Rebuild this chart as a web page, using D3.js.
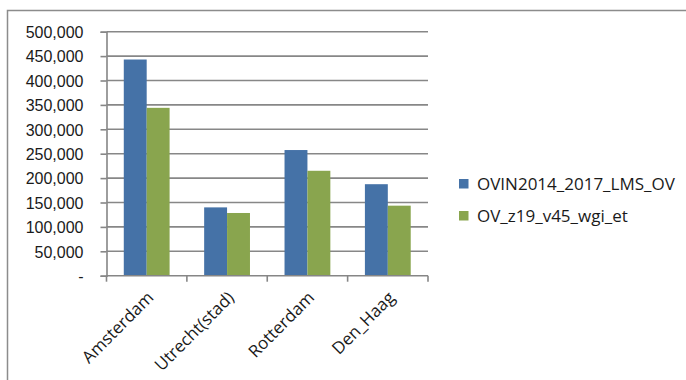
<!DOCTYPE html>
<html>
<head>
<meta charset="utf-8">
<script src="https://cdn.jsdelivr.net/npm/d3@7/dist/d3.min.js"></script>
<style>
  html, body { margin: 0; padding: 0; background: #fff; }
  svg { display: block; font-family: "Open Sans", sans-serif; }
</style>
</head>
<body>
<svg id="chart" width="686" height="380"></svg>
<script>
// Trip counts per city for two model runs
const categories = ["Amsterdam", "Utrecht(stad)", "Rotterdam", "Den_Haag"];
const seriesNames = ["OVIN2014_2017_LMS_OV", "OV_z19_v45_wgi_et"];
const ovinValues = [443000, 140000, 257500, 187500];
const ovZ19Values = [344000, 128500, 215000, 143500];
const yTicks = [0, 50000, 100000, 150000, 200000, 250000, 300000, 350000, 400000, 450000, 500000];
const colors = ["#4572A7", "#89A54E"];

const series = [ovinValues, ovZ19Values];
const svg = d3.select("#chart");

// chart-area frame (only top and left edges fall inside the view)
svg.append("rect")
  .attr("x", 7.5).attr("y", 10.5)
  .attr("width", 700).attr("height", 400)
  .attr("fill", "none").attr("stroke", "#8c8c8c").attr("stroke-width", 1.5);

const plot = { left: 106.5, right: 428, top: 31.7, bottom: 275.7 };

const y = d3.scaleLinear().domain([0, 500000]).range([plot.bottom, plot.top]);
const x0 = d3.scaleBand().domain(categories)
  .range([plot.left, plot.right]).paddingInner(0.43).paddingOuter(0.215);
const x1 = d3.scaleBand().domain(d3.range(series.length))
  .range([0, x0.bandwidth()]).padding(0);

// horizontal gridlines
svg.append("g").selectAll("line").data(yTicks.filter(d => d > 0)).join("line")
  .attr("x1", plot.left).attr("x2", plot.right)
  .attr("y1", d => y(d)).attr("y2", d => y(d))
  .attr("stroke", "#878787").attr("stroke-width", 1.6);

// bars
const groups = svg.append("g").selectAll("g").data(categories).join("g")
  .attr("transform", d => `translate(${x0(d)},0)`);
groups.selectAll("rect")
  .data((c, i) => series.map((s, k) => ({ k, v: s[i] })))
  .join("rect")
  .attr("x", d => x1(d.k))
  .attr("width", x1.bandwidth())
  .attr("y", d => y(d.v))
  .attr("height", d => y(0) - y(d.v))
  .attr("fill", d => colors[d.k]);

// y axis
const fmt = d => d === 0 ? "-" : d3.format(",")(d);
const yAxis = d3.axisLeft(y).tickValues(yTicks).tickFormat(fmt).tickSize(6).tickPadding(17);
const gy = svg.append("g").attr("transform", `translate(${plot.left},0)`).call(yAxis);
gy.select(".domain").attr("stroke", "#868686").attr("stroke-width", 1.6);
gy.selectAll(".tick line").attr("stroke", "#868686").attr("stroke-width", 1.6);
gy.selectAll(".tick text").attr("fill", "#1a1a1a").style("font-size", "16px")
  .attr("dy", "0.36em");

// x axis with boundary ticks between categories
const gx = svg.append("g").attr("transform", `translate(0,${plot.bottom})`);
gx.append("line").attr("x1", plot.left).attr("x2", plot.right)
  .attr("stroke", "#868686").attr("stroke-width", 1.6);
const step = x0.step();
gx.selectAll("line.tk").data(d3.range(categories.length + 1)).join("line")
  .attr("class", "tk")
  .attr("x1", i => plot.left + i * step).attr("x2", i => plot.left + i * step)
  .attr("y1", 0).attr("y2", 6)
  .attr("stroke", "#868686").attr("stroke-width", 1.6);
gx.selectAll("text").data(categories).join("text")
  .attr("transform", d => `translate(${x0(d) + x0.bandwidth() / 2 + 8},${23}) rotate(-45)`)
  .attr("text-anchor", "end")
  .attr("fill", "#1a1a1a")
  .style("font-size", "17px")
  .text(d => d);

// legend
const legend = svg.append("g").attr("transform", "translate(459,183.5)");
const items = legend.selectAll("g").data(seriesNames).join("g")
  .attr("transform", (d, i) => `translate(0,${i * 32})`);
items.append("rect").attr("x", 0).attr("y", -4.5).attr("width", 9.5).attr("height", 9.5)
  .attr("fill", (d, i) => colors[i]);
items.append("text").attr("x", 18).attr("dy", "0.36em")
  .attr("fill", "#1a1a1a")
  .style("font-size", "17px").text(d => d);
</script>
</body>
</html>
